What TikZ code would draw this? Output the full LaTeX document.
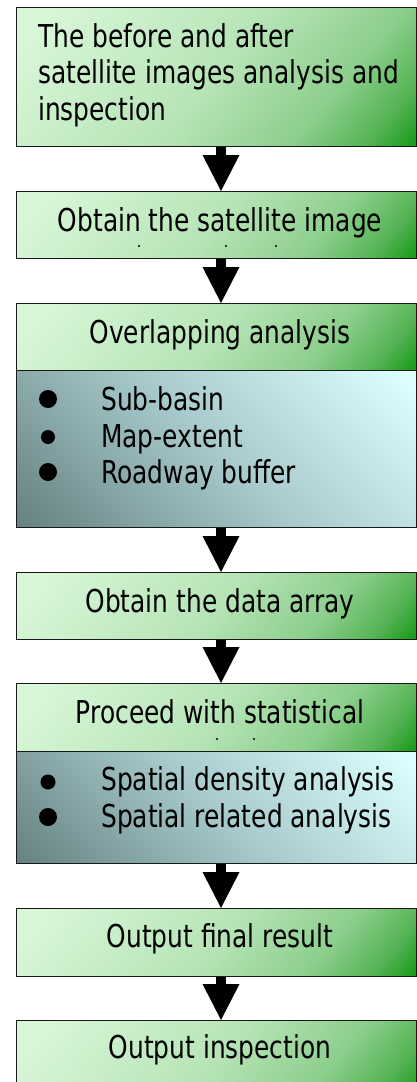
\documentclass[tikz,border=0pt]{standalone}
\usepackage{fontspec}
\setmainfont[FakeStretch=0.79]{DejaVu Sans}
\usetikzlibrary{calc}
\definecolor{gA}{HTML}{D8F6D8}
\definecolor{gB}{HTML}{B6E4B6}
\definecolor{gC}{HTML}{8CCE8C}
\definecolor{gE}{HTML}{56B456}
\definecolor{gD}{HTML}{0E960E}
\definecolor{bA}{HTML}{688484}
\definecolor{bB}{HTML}{A8CACC}
\definecolor{bC}{HTML}{DCFFFF}
\pgfdeclarehorizontalshading{gshade}{100bp}{color(0bp)=(gA); color(20bp)=(gA); color(50bp)=(gB); color(68bp)=(gC); color(78bp)=(gE); color(86bp)=(gD); color(100bp)=(gD)}
\pgfdeclarehorizontalshading{bshade}{100bp}{color(0bp)=(bA); color(16bp)=(bA); color(50bp)=(bB); color(84bp)=(bC); color(100bp)=(bC)}
\tikzset{
  boxbase/.style={rectangle, draw=black!90, line width=1.2pt, anchor=north west,
    minimum width=400pt, inner sep=0pt},
  gbox/.style={boxbase, shading=gshade, shading angle=-40},
  bluebox/.style={boxbase, shading=bshade, shading angle=45},
  lbl/.style={anchor=base, inner sep=0pt, font=\fontsize{31.5}{36}\selectfont},
  lbll/.style={anchor=base west, inner sep=0pt, font=\fontsize{31.5}{36}\selectfont},
  bul/.style={circle, fill=black, inner sep=0pt, minimum size=#1},
  dotmark/.style={circle, fill=black, inner sep=0pt, minimum size=2.4pt},
  shaft/.style={line width=10pt, black},
}
\begin{document}
\begin{tikzpicture}[x=1pt, y=-1pt]
\useasboundingbox (0,0) rectangle (417,1082);
\clip (0,0) rectangle (417,1082);
\coordinate (ax) at (221,0);
% boxes
\node[gbox, minimum height=139pt] (b1) at (16,7) {};
\node[gbox, minimum height=67pt] (b2) at (16,191) {};
\node[gbox, minimum height=67pt] (b3h) at (16,303) {};
\node[bluebox, minimum height=157pt] (b3b) at (16,370) {};
\node[gbox, minimum height=67pt] (b4) at (16,572) {};
\node[gbox, minimum height=68pt] (b5h) at (16,683) {};
\node[bluebox, minimum height=112pt] (b5b) at (16,751) {};
\node[gbox, minimum height=68pt] (b6) at (16,908) {};
\node[gbox, minimum height=80pt] (b7) at (16,1020) {};
% texts
\node[lbll] (t1a) at (38,47) {The before and after};
\node[lbll] (t1b) at (38,83.5) {satellite images analysis and};
\node[lbll] (t1c) at (38,120) {inspection};
\node[lbl] (t2) at (220,231) {Obtain the satellite image};
\node[lbl] (t3) at (220,343) {Overlapping analysis};
\node[lbll] (i31) at (101,410) {Sub-basin};
\node[lbll] (i32) at (101,447) {Map-extent};
\node[lbll] (i33) at (101,483) {Roadway buffer};
\node[lbl] (t4) at (220,612) {Obtain the data array};
\node[lbl] (t5) at (220,723) {Proceed with statistical};
\node[lbll] (i51) at (101,790) {Spatial density analysis};
\node[lbll] (i52) at (101,827) {Spatial related analysis};
\node[lbl] (t6) at (220,947) {Output final result};
\node[lbl] (t7) at (220,1058) {Output inspection};
% bullets
\node[bul=18pt] (p31) at (48,399) {};
\node[bul=14pt] (p32) at (48,437) {};
\node[bul=18pt] (p33) at (48,472) {};
\node[bul=15pt] (p51) at (48,782) {};
\node[bul=18pt] (p52) at (48,817) {};
% stray dots
\node[dotmark] (d1) at (139,246) {};
\node[dotmark] (d2) at (226,246) {};
\node[dotmark] (d3) at (276,246) {};
\node[dotmark] (d4) at (217,739) {};
\node[dotmark] (d5) at (254,739) {};
% arrows
\foreach \s/\t in {b1/b2, b2/b3h, b3b/b4, b4/b5h, b5b/b6, b6/b7}{
  \draw[shaft] (\s.south -| ax) -- ($(\t.north -| ax)+(0,-35)$);
  \fill ($(\t.north -| ax)+(-18.5,-36)$) -- ($(\t.north -| ax)+(18.5,-36)$) -- (\t.north -| ax) -- cycle;
}
\end{tikzpicture}
\end{document}
